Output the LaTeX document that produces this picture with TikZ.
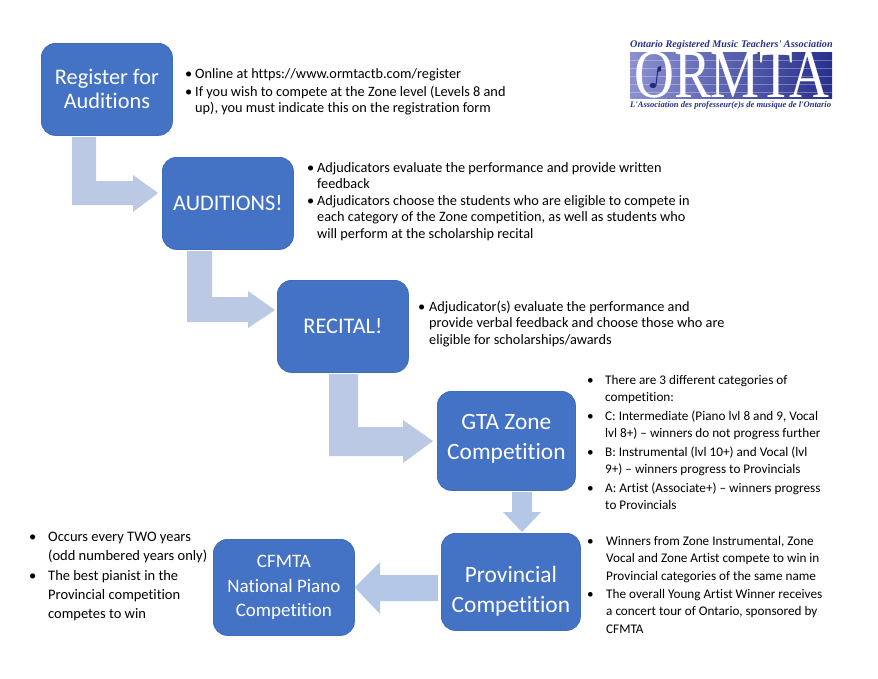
\documentclass[tikz,border=0pt]{standalone}
\usepackage{fontspec}
\setmainfont[Ligatures=NoCommon]{Carlito}
\newfontfamily\logofont{Liberation Serif}
\usetikzlibrary{shadings}
\definecolor{boxblue}{HTML}{4472C4}
\definecolor{boxedge}{HTML}{3F6DB8}
\definecolor{arrowblue}{HTML}{BBC9E4}
\definecolor{arrowlight}{HTML}{B4C7E7}
\definecolor{logoblue}{HTML}{27308C}
\definecolor{logolight}{HTML}{8A90D0}
\tikzset{
  stage/.style={draw=boxedge,line width=0.8pt,fill=boxblue,rounded corners=14pt,text=white,align=center,inner sep=0pt,anchor=north west},
  flow/.style={fill=arrowblue,draw=none},
  flowlight/.style={fill=arrowlight,draw=none},
  body/.style={align=left,anchor=north west,inner sep=0pt,text=black},
  big/.style={body,font=\fontsize{14.3}{16.5}\selectfont},
  small/.style={body,font=\fontsize{13.2}{17.5}\selectfont},
  wide/.style={body,font=\fontsize{14.5}{19.2}\selectfont},
  logotext/.style={font=\logofont\itshape\bfseries\fontsize{10.2}{10}\selectfont,text=logoblue,inner sep=0pt,anchor=base west},
}
\newcommand\stagebox[8]{\node[stage,minimum width=#4pt,minimum height=#5pt,font=\fontsize{#6}{#7}\selectfont] (#1) at (#2,#3) {#8};}
\newcommand\bl[6]{%
  \node[#6] (#1b) at (#2,#4-11) {\rule{0pt}{11pt}•};
  \node[#6] (#1) at (#3,#4-11) {\rule{0pt}{11pt}#5};}
\begin{document}
\begin{tikzpicture}[x=1pt,y=-1pt]
\useasboundingbox (0,0) rectangle (878,678);
% stages
\stagebox{reg}{41}{43}{131}{92}{22.3}{24}{Register for\\Auditions}
\stagebox{aud}{162}{157}{131}{92}{22.3}{24}{AUDITIONS!}
\stagebox{rec}{277}{280}{131}{92}{22.3}{24}{RECITAL!}
\stagebox{gta}{437}{391}{138}{99}{23.4}{30}{GTA Zone\\Competition\rule[-9pt]{0pt}{1pt}}
\stagebox{pro}{441}{533}{139}{97}{23.4}{30}{\rule{0pt}{35pt}Provincial\\Competition}
\stagebox{cfm}{213}{539}{141}{96}{19}{24.5}{CFMTA\\National Piano\\Competition}
% arrows
\coordinate (tip1) at (aud.west |- 0,193);
\coordinate (tip2) at (rec.west |- 0,310);
\coordinate (tip3) at (gta.west |- 0,441);
\fill[flow] (72,137) -- (96,137) -- (96,181) -- (133,181) -- (133,175) -- ([xshift=-4pt]tip1) -- (133,212) -- (133,205) -- (72,205) -- cycle;
\fill[flow] (187,251) -- (212,251) -- (212,297) -- (248,297) -- (248,291) -- ([xshift=-2pt]tip2) -- (248,328) -- (248,322) -- (187,322) -- cycle;
\fill[flow] (329,374) -- (358,374) -- (358,427) -- (403,427) -- (403,420) -- ([xshift=-4pt]tip3) -- (403,463) -- (403,456) -- (329,456) -- cycle;
\fill[flowlight] (512,492) -- (532,492) -- (532,512) -- (541,512) -- (522,532) -- (503,512) -- (512,512) -- cycle;
\fill[flowlight] (438,575) -- (380,575) -- (380,562) -- (cfm.east) -- (380,614) -- (380,601) -- (438,601) -- cycle;
% text
\bl{a1}{185}{195}{78}{Online at https://www.ormtactb.com/register}{big}
\bl{a2}{185}{195}{96}{If you wish to compete at the Zone level (Levels 8 and\\up), you must indicate this on the registration form}{big}
\bl{b1}{307}{317}{172}{Adjudicators evaluate the performance and provide written\\feedback}{big}
\bl{b2}{307}{317}{205}{Adjudicators choose the students who are eligible to compete in\\each category of the Zone competition, as well as students who\\will perform at the scholarship recital}{big}
\bl{c1}{418}{429}{311}{Adjudicator(s) evaluate the performance and\\provide verbal feedback and choose those who are\\eligible for scholarships/awards}{big}
\bl{d1}{587}{605}{384}{There are 3 different categories of\\competition:}{small}
\bl{d2}{587}{605}{420}{C: Intermediate (Piano lvl 8 and 9, Vocal\\lvl 8+) – winners do not progress further}{small}
\bl{d3}{587}{605}{456}{B: Instrumental (lvl 10+) and Vocal (lvl\\9+) – winners progress to Provincials}{small}
\bl{d4}{587}{605}{492}{A: Artist (Associate+) – winners progress\\to Provincials}{small}
\bl{e1}{587}{606}{545}{Winners from Zone Instrumental, Zone\\Vocal and Zone Artist compete to win in\\Provincial categories of the same name}{small}
\bl{e2}{587}{606}{598}{The overall Young Artist Winner receives\\a concert tour of Ontario, sponsored by\\CFMTA}{small}
\bl{f1}{29}{48}{541}{Occurs every TWO years\\(odd numbered years only)}{wide}
\bl{f2}{29}{48}{580}{The best pianist in the\\Provincial competition\\competes to win}{wide}
% logo
\node[logotext] (lt) at (630,47.5) {Ontario Registered Music Teachers' Association};
\node[logotext,font=\logofont\itshape\bfseries\fontsize{8.55}{10}\selectfont] (lb) at (630,107) {L'Association des professeur(e)s de musique de l'Ontario};
\shade[left color=logolight,right color=logoblue] (630,52) rectangle (832,98);
\foreach \yy in {60,68,76,84,92}{\draw[white,opacity=0.3,line width=0.5pt] (630,\yy) -- (832,\yy);}
\node[font=\logofont\fontsize{69}{69}\selectfont,text=white,inner sep=0pt,anchor=base west,xscale=0.8] (lm) at (634,97.5) {ORMTA};
\fill[logoblue!90!black] (653,85.5) ellipse (3.4 and 2.6);
\draw[logoblue!90!black,line width=1pt] (656,85) -- (658,68);
\fill[logoblue!90!black] (658,67) -- (661,66) -- (661,71) -- (657.5,72) -- cycle;
\end{tikzpicture}
\end{document}
